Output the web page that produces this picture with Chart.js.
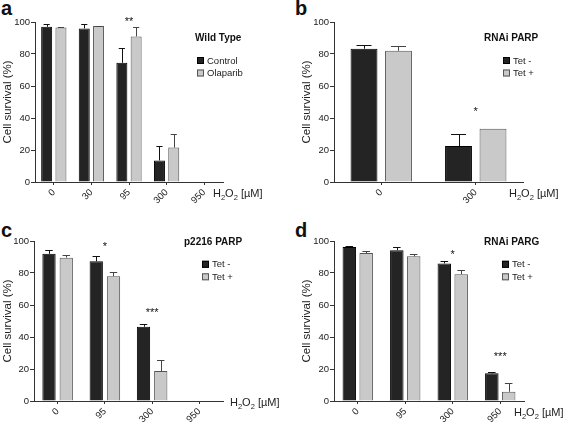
<!DOCTYPE html>
<html>
<head>
<meta charset="utf-8">
<script src="https://cdn.jsdelivr.net/npm/chart.js@4/dist/chart.umd.min.js"></script>
<style>
  body { margin: 0; background: #fff; width: 567px; height: 425px; position: relative; overflow: hidden; }
  canvas { position: absolute; }
  .lab { position: absolute; font: bold 20px 'Liberation Sans', Arial, sans-serif; line-height: 20px; color: #111; }
</style>
</head>
<body>
<div class="lab" style="left:1px;top:-2px">a</div>
<div class="lab" style="left:295px;top:-2px">b</div>
<div class="lab" style="left:1px;top:220px">c</div>
<div class="lab" style="left:295px;top:220px">d</div>
<canvas id="panelA" width="280" height="210" style="left:0;top:0"></canvas>
<canvas id="panelB" width="287" height="210" style="left:280px;top:0"></canvas>
<canvas id="panelC" width="280" height="215" style="left:0;top:210px"></canvas>
<canvas id="panelD" width="287" height="215" style="left:280px;top:210px"></canvas>
<script>
// values (cell survival %, error = upper SD bar)
const dosesA = ['0', '30', '95', '300', '950'];
const controlA = [97, 96, 74.5, 13.5, 0];
const controlErrA = [2, 3, 9.5, 9, 0];
const olaparibA = [96.5, 97.5, 91, 21.5, 0];
const olaparibErrA = [0.4, 0.3, 6, 8.5, 0];
const starsA = ['', '', '**', '', ''];
const starsYA = [null, null, 102, null, null];

const dosesB = ['0', '300'];
const tetMinusB = [83.3, 22.5];
const tetMinusErrB = [2.5, 7.3];
const tetPlusB = [82, 33.3];
const tetPlusErrB = [3, 0];
const starsB = ['', '*'];
const starsYB = [null, 46];

const dosesC = ['0', '95', '300', '950'];
const tetMinusC = [92, 87.3, 46.4, 0];
const tetMinusErrC = [2.5, 3.3, 2, 0];
const tetPlusC = [89.6, 78, 18.7, 0];
const tetPlusErrC = [1.5, 2.7, 6.9, 0];
const starsC = ['', '*', '***', ''];
const starsYC = [null, 98.4, 57.2, null];

const dosesD = ['0', '95', '300', '950'];
const tetMinusD = [96.3, 94.2, 86, 17.3];
const tetMinusErrD = [0.3, 2.1, 1.2, 1];
const tetPlusD = [92.5, 90.4, 79.2, 5.8];
const tetPlusErrD = [1.3, 1.7, 2.5, 5.6];
const starsD = ['', '', '*', '***'];
const starsYD = [null, null, 93.1, 29.3];

const yTicks = [0, 20, 40, 60, 80, 100];

const FONT = "'Liberation Sans', Arial, Helvetica, sans-serif";
Chart.defaults.font.family = FONT;
Chart.defaults.color = '#222';

const DARK = '#242424', LIGHT = '#c9c9c9';

// error bars, stars, inset legend and the H2O2 axis label
const deco = {
  id: 'deco',
  afterDatasetsDraw(chart, args, opts) {
    const ctx = chart.ctx, area = chart.chartArea;
    const xs = chart.scales.x, ys = chart.scales.y;
    ctx.save();
    chart.data.datasets.forEach((ds, i) => {
      chart.getDatasetMeta(i).data.forEach((bar, j) => {
        const err = ds.errors[j];
        if (!err) return;
        const top = ys.getPixelForValue(ds.data[j] + err);
        const cap = bar.width * 0.28;
        ctx.strokeStyle = i === 0 ? '#111' : '#444';
        ctx.lineWidth = 1;
        ctx.beginPath();
        ctx.moveTo(Math.round(bar.x) + 0.5, bar.y);
        ctx.lineTo(Math.round(bar.x) + 0.5, Math.round(top) + 0.5);
        ctx.moveTo(bar.x - cap, Math.round(top) + 0.5);
        ctx.lineTo(bar.x + cap, Math.round(top) + 0.5);
        ctx.stroke();
      });
    });

    // significance stars
    ctx.fillStyle = '#111';
    ctx.font = '11px ' + FONT;
    ctx.textAlign = 'center';
    ctx.textBaseline = 'alphabetic';
    opts.stars.forEach((s, j) => {
      if (!s) return;
      ctx.fillText(s, xs.getPixelForValue(j), ys.getPixelForValue(opts.starsY[j]) + 6.3);
    });

    // legend
    ctx.textAlign = 'left';
    ctx.textBaseline = 'middle';
    ctx.font = 'bold 10px ' + FONT;
    ctx.fillText(opts.title, area.right + opts.titleDx, area.top + opts.titleDy);
    ctx.font = '9.5px ' + FONT;
    chart.data.datasets.forEach((ds, i) => {
      const cy = area.top + opts.itemDy + i * 12.5;
      const bx = area.right + opts.boxDx;
      ctx.fillStyle = ds.backgroundColor;
      ctx.fillRect(bx, cy - 3.5, 7, 7);
      ctx.strokeStyle = ds.borderColor;
      ctx.strokeRect(bx + 0.5, cy - 3, 6, 6);
      ctx.fillStyle = '#222';
      ctx.fillText(ds.label, bx + 10, cy + 0.5);
    });

    // H2O2 [µM]
    let x = area.right + opts.unitDx;
    const y = area.bottom + opts.unitDy;
    ctx.textBaseline = 'alphabetic';
    [['H', 0, 11], ['2', 2.5, 7.5], ['O', 0, 11], ['2', 2.5, 7.5], [' [µM]', 0, 11]].forEach(([t, dy, size]) => {
      ctx.font = size + 'px ' + FONT;
      ctx.fillText(t, x, y + dy);
      x += ctx.measureText(t).width;
    });
    ctx.restore();
  }
};

function buildPanel(id, p) {
  return new Chart(document.getElementById(id), {
    type: 'bar',
    data: {
      labels: p.labels,
      datasets: [
        { label: p.names[0], data: p.dark, errors: p.darkErr, backgroundColor: DARK, borderColor: '#000', borderWidth: 1 },
        { label: p.names[1], data: p.light, errors: p.lightErr, backgroundColor: LIGHT, borderColor: '#555', borderWidth: 1 }
      ]
    },
    options: {
      responsive: false,
      animation: false,
      categoryPercentage: p.catPct,
      barPercentage: p.barPct,
      layout: { padding: p.padding },
      plugins: {
        legend: { display: false },
        tooltip: { enabled: false },
        deco: p.deco
      },
      scales: {
        x: {
          grid: { drawOnChartArea: false, offset: false, tickLength: 3, color: '#333' },
          border: { color: '#333' },
          ticks: { minRotation: 45, maxRotation: 45, padding: 2, font: { size: 9.5 } },
          afterFit: s => { s.height = p.xHeight; }
        },
        y: {
          min: 0,
          max: 100,
          afterBuildTicks: s => { s.ticks = yTicks.map(v => ({ value: v })); },
          grid: { drawOnChartArea: false, tickLength: 4, color: '#333' },
          border: { color: '#333' },
          ticks: { padding: 1, font: { size: 9.5 } },
          title: { display: true, text: 'Cell survival (%)', font: { size: 11.5 }, padding: { top: 0.5, bottom: 0 } },
          afterFit: s => { s.width = p.yWidth; }
        }
      }
    },
    plugins: [deco]
  });
}

buildPanel('panelA', {
  labels: dosesA, names: ['Control', 'Olaparib'],
  dark: controlA, darkErr: controlErrA, light: olaparibA, lightErr: olaparibErrA,
  catPct: 0.76, barPct: 0.77,
  padding: { left: 0, top: 22, right: 57, bottom: 0 }, xHeight: 28, yWidth: 35,
  deco: { title: 'Wild Type', titleDx: -28, titleDy: 16.5, boxDx: -26, itemDy: 38.5,
          stars: starsA, starsY: starsYA, unitDx: -10, unitDy: 15 }
});

buildPanel('panelB', {
  labels: dosesB, names: ['Tet -', 'Tet +'],
  dark: tetMinusB, darkErr: tetMinusErrB, light: tetPlusB, lightErr: tetPlusErrB,
  catPct: 0.73, barPct: 0.78,
  padding: { left: 19, top: 22, right: 44, bottom: 0 }, xHeight: 28, yWidth: 35,
  deco: { title: 'RNAi PARP', titleDx: -39, titleDy: 16.5, boxDx: -20, itemDy: 38.5,
          stars: starsB, starsY: starsYB, unitDx: -14, unitDy: 15 }
});

buildPanel('panelC', {
  labels: dosesC, names: ['Tet -', 'Tet +'],
  dark: tetMinusC, darkErr: tetMinusErrC, light: tetPlusC, lightErr: tetPlusErrC,
  catPct: 0.73, barPct: 0.77,
  padding: { left: 0, top: 31, right: 57, bottom: 0 }, xHeight: 24, yWidth: 34,
  deco: { title: 'p2216 PARP', titleDx: -39, titleDy: 1.5, boxDx: -21, itemDy: 23.3,
          stars: starsC, starsY: starsYC, unitDx: 7, unitDy: 5 }
});

buildPanel('panelD', {
  labels: dosesD, names: ['Tet -', 'Tet +'],
  dark: tetMinusD, darkErr: tetMinusErrD, light: tetPlusD, lightErr: tetPlusErrD,
  catPct: 0.71, barPct: 0.8,
  padding: { left: 19, top: 31, right: 43, bottom: 0 }, xHeight: 24, yWidth: 35,
  deco: { title: 'RNAi PARG', titleDx: -40, titleDy: 1.5, boxDx: -22, itemDy: 23.3,
          stars: starsD, starsY: starsYD, unitDx: -10, unitDy: 15 }
});
</script>
</body>
</html>
